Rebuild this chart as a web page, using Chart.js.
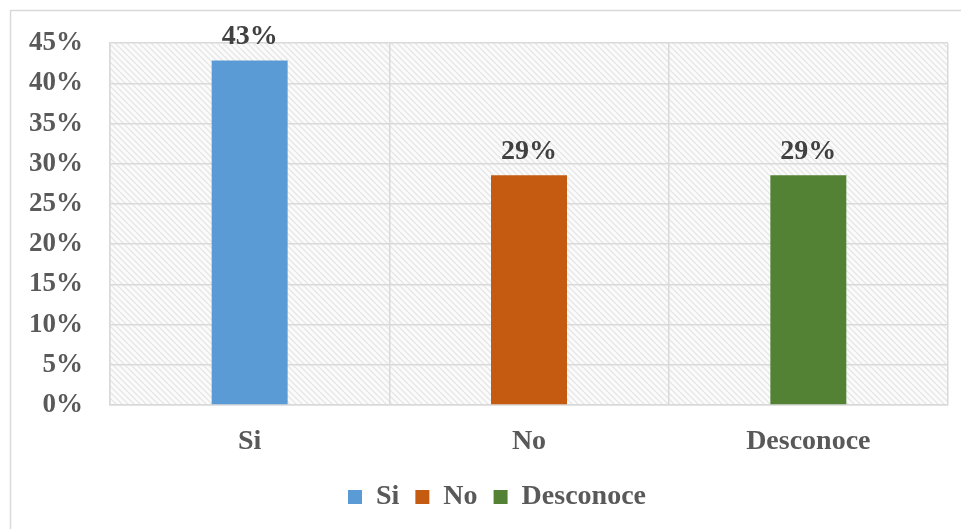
<!DOCTYPE html>
<html>
<head>
<meta charset="utf-8">
<script src="https://cdn.jsdelivr.net/npm/chart.js@4.4.0/dist/chart.umd.min.js"></script>
<style>
html,body{margin:0;padding:0;background:#fff;}
#wrap{position:relative;width:961px;height:529px;}
</style>
</head>
<body>
<div id="wrap"><canvas id="grafico" width="961" height="529"></canvas></div>
<script>
const categorias=['Si','No','Desconoce'];
const valores=[42.86,28.57,28.57];
const rotulos=['43%','29%','29%'];
const cores=['#5B9BD5','#C55A11','#548235'];
const ticksY=[0,5,10,15,20,25,30,35,40,45];

const FONTE='"Liberation Serif","Times New Roman",serif';

function criarTrama(ctx){
  const c=document.createElement('canvas');
  c.width=6;c.height=6;
  const g=c.getContext('2d');
  g.fillStyle='#fbfbfb';g.fillRect(0,0,6,6);
  g.strokeStyle='#e6e6e6';g.lineWidth=1.3;
  g.beginPath();
  g.moveTo(0,0);g.lineTo(6,6);
  g.moveTo(-3,3);g.lineTo(3,9);
  g.moveTo(3,-3);g.lineTo(9,3);
  g.stroke();
  return ctx.createPattern(c,'repeat');
}

const fundoPlugin={
  id:'fundo',
  afterLayout(chart){
    // legenda um pouco deslocada para a direita, como no original
    if(chart.legend){chart.legend.left+=46;}
  },
  beforeDraw(chart){
    const {ctx,chartArea:a}=chart;
    ctx.save();
    ctx.strokeStyle='#d9d9d9';ctx.lineWidth=1.5;
    ctx.strokeRect(10.5,10.5,960,540);
    ctx.fillStyle=criarTrama(ctx);
    ctx.fillRect(a.left,a.top,a.right-a.left,a.bottom-a.top);
    ctx.restore();
  }
};

const rotuloPlugin={
  id:'rotulos',
  afterDatasetsDraw(chart){
    const {ctx}=chart;
    const meta=chart.getDatasetMeta(0);
    ctx.save();
    ctx.font='bold 28px '+FONTE;
    ctx.fillStyle='#404040';
    ctx.textAlign='center';ctx.textBaseline='bottom';
    meta.data.forEach(function(b,i){ctx.fillText(rotulos[i],b.x,b.y-10);});
    ctx.restore();
  }
};

new Chart(document.getElementById('grafico').getContext('2d'),{
  type:'bar',
  data:{labels:categorias,datasets:[{data:valores,backgroundColor:cores,categoryPercentage:1,barPercentage:0.272}]},
  options:{
    responsive:false,animation:false,
    layout:{padding:{top:37,right:13,left:0,bottom:8}},
    plugins:{
      tooltip:{enabled:false},
      legend:{
        position:'bottom',
        labels:{
          font:{family:FONTE,size:28,weight:'bold'},color:'#595959',
          boxWidth:14,boxHeight:14,padding:16,
          generateLabels:function(){
            return categorias.map(function(c,i){return {text:c,fillStyle:cores[i],strokeStyle:cores[i],lineWidth:0,fontColor:'#595959'};});
          }
        }
      }
    },
    scales:{
      x:{
        grid:{color:'#d9d9d9',lineWidth:1.5,offset:true,drawTicks:false},
        border:{color:'#d9d9d9',width:1.5},
        ticks:{font:{family:FONTE,size:28,weight:'bold'},color:'#595959',padding:20},
        afterFit:function(s){s.height=62;}
      },
      y:{
        min:0,max:45,
        afterBuildTicks:function(s){s.ticks=ticksY.map(function(v){return {value:v};});},
        grid:{color:'#d9d9d9',lineWidth:1.5,drawTicks:false},
        border:{color:'#d9d9d9',width:1.5},
        ticks:{font:{family:FONTE,size:27,weight:'bold'},color:'#595959',padding:27,callback:function(v){return v+'%';}},
        afterFit:function(s){s.width=110;}
      }
    }
  },
  plugins:[fundoPlugin,rotuloPlugin]
});
</script>
</body>
</html>
